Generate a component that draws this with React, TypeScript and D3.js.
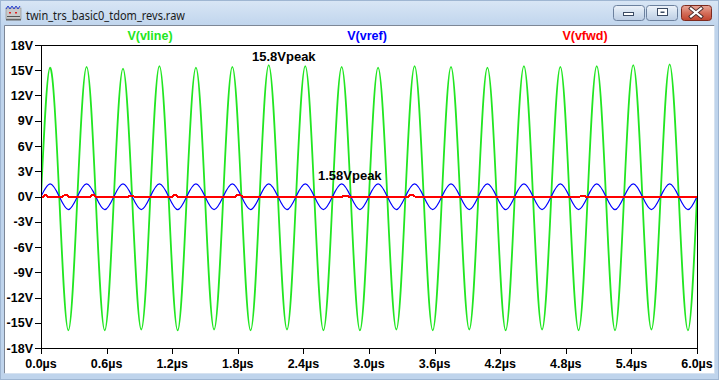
import React from 'react';
import * as d3 from 'd3';

// time samples (µs) at quarter periods of the 3 MHz waveform
const timeUs = [
  0, 0.083, 0.167, 0.25, 0.333, 0.417, 0.5, 0.583, 0.667, 0.75, 0.833, 0.917,
  1.0, 1.083, 1.167, 1.25, 1.333, 1.417, 1.5, 1.583, 1.667, 1.75, 1.833, 1.917,
  2.0, 2.083, 2.167, 2.25, 2.333, 2.417, 2.5, 2.583, 2.667, 2.75, 2.833, 2.917,
  3.0, 3.083, 3.167, 3.25, 3.333, 3.417, 3.5, 3.583, 3.667, 3.75, 3.833, 3.917,
  4.0, 4.083, 4.167, 4.25, 4.333, 4.417, 4.5, 4.583, 4.667, 4.75, 4.833, 4.917,
  5.0, 5.083, 5.167, 5.25, 5.333, 5.417, 5.5, 5.583, 5.667, 5.75, 5.833, 5.917,
  6.0,
];

// V(vline) in volts
const vline = [
  0, 15.3, 0, -15.9,
  0, 15.4, 0, -15.9,
  0, 15.2, 0, -15.8,
  0, 15.5, 0, -15.9,
  0, 15.3, 0, -15.8,
  0, 15.4, 0, -15.9,
  0, 15.6, 0, -15.8,
  0, 15.5, 0, -15.9,
  0, 15.4, 0, -15.9,
  0, 15.3, 0, -15.8,
  0, 15.5, 0, -15.9,
  0, 15.4, 0, -15.8,
  0, 15.3, 0, -15.9,
  0, 15.5, 0, -15.8,
  0, 15.4, 0, -15.9,
  0, 15.5, 0, -15.9,
  0, 15.6, 0, -15.8,
  0, 15.7, 0, -15.9,
  0,
];

// V(vref) in volts
const vref = [
  0, 1.5, 0, -1.56,
  0, 1.5, 0, -1.57,
  0, 1.49, 0, -1.56,
  0, 1.5, 0, -1.57,
  0, 1.5, 0, -1.56,
  0, 1.5, 0, -1.57,
  0, 1.51, 0, -1.56,
  0, 1.5, 0, -1.57,
  0, 1.5, 0, -1.56,
  0, 1.49, 0, -1.57,
  0, 1.5, 0, -1.56,
  0, 1.5, 0, -1.57,
  0, 1.5, 0, -1.56,
  0, 1.5, 0, -1.57,
  0, 1.5, 0, -1.56,
  0, 1.5, 0, -1.57,
  0, 1.51, 0, -1.56,
  0, 1.5, 0, -1.57,
  0,
];

// V(vfwd): flat near 0 V with small glitches
const vfwdTime = [
  0, 0.02, 0.03, 0.05, 0.06,
  0.2, 0.21, 0.24, 0.25,
  0.45, 0.46, 0.49, 0.5,
  0.8, 0.81, 0.84, 0.85,
  1.2, 1.21, 1.24, 1.25,
  1.78, 1.79, 1.83, 1.84,
  2.76, 2.77, 2.8, 2.81,
  3.36, 3.37, 3.41, 3.42,
  4.93, 4.94, 4.97, 4.98,
  6.0,
];
const vfwd = [
  0, 0, 0.12, 0.12, 0,
  0, 0.12, 0.12, 0,
  0, 0.12, 0.12, 0,
  0, 0.1, 0.1, 0,
  0, 0.12, 0.12, 0,
  0, 0.12, 0.12, 0,
  0, 0.1, 0.1, 0,
  0, 0.12, 0.12, 0,
  0, 0.1, 0.1, 0,
  0,
];

const yTicks = [18, 15, 12, 9, 6, 3, 0, -3, -6, -9, -12, -15, -18];
const xTicks = [0, 0.6, 1.2, 1.8, 2.4, 3.0, 3.6, 4.2, 4.8, 5.4, 6.0];
const traceNames = ['V(vline)', 'V(vref)', 'V(vfwd)'];
const traceColors = ['#22e622', '#0000ff', '#ff0000'];
const annotations = ['15.8Vpeak', '1.58Vpeak'];
const windowTitle = 'twin_trs_basic0_tdom_revs.raw';

const W = 719;
const H = 380;
const PL = 41, PR = 697, PT = 45, PB = 348;
const FONT = '"Liberation Sans", Arial, sans-serif';

export default function App() {
  const x = d3.scaleLinear().domain([0, 6]).range([PL, PR]);
  const y = d3.scaleLinear().domain([-18, 18]).range([PB, PT]);

  const greenPath = d3
    .line<number>()
    .x((_, i) => x(timeUs[i]))
    .y((v) => y(v))
    .curve(d3.curveNatural)(vline) || '';
  const bluePath = d3
    .line<number>()
    .x((_, i) => x(timeUs[i]))
    .y((v) => y(v))
    .curve(d3.curveNatural)(vref) || '';
  const redPath = d3
    .line<number>()
    .x((_, i) => x(vfwdTime[i]))
    .y((v) => y(v))(vfwd) || '';

  const fmtY = (v: number) => `${v}V`;
  const fmtX = (v: number) => `${v.toFixed(1)}µs`;

  return (
    <div style={{ position: 'absolute', left: 0, top: 0 }}>
      <svg width={W} height={H} style={{ display: 'block' }}>
        <defs>
          <linearGradient id="title" x1="0" y1="0" x2="0" y2="1">
            <stop offset="0" stopColor="#d9e6f5" />
            <stop offset="1" stopColor="#c0d5ed" />
          </linearGradient>
          <linearGradient id="btn" x1="0" y1="0" x2="0" y2="1">
            <stop offset="0" stopColor="#eef3fa" />
            <stop offset="0.5" stopColor="#d3e0ef" />
            <stop offset="1" stopColor="#bccde3" />
          </linearGradient>
          <linearGradient id="close" x1="0" y1="0" x2="0" y2="1">
            <stop offset="0" stopColor="#e9a99b" />
            <stop offset="0.5" stopColor="#d46e5a" />
            <stop offset="1" stopColor="#c2432d" />
          </linearGradient>
          <clipPath id="plotclip">
            <rect x={PL + 1} y={PT + 1} width={PR - PL - 1} height={PB - PT - 1} />
          </clipPath>
        </defs>

        {/* window frame */}
        <rect x={0} y={0} width={W} height={H} fill="#bfd4ec" />
        <rect x={0} y={0} width={W} height={26} fill="url(#title)" />
        <rect x={0.5} y={0.5} width={W - 1} height={H - 1} fill="none" stroke="#9fb6d2" />

        {/* icon */}
        <g>
          <rect x={6} y={8} width={15} height={11} fill="#c9c9c9" stroke="#8a8a8a" strokeWidth={0.6} />
          <path d="M6,9 l2,-3 l2,3 l2,-3 l2,3 l2,-3 l2,3 l2,-3" fill="none" stroke="#2a3fd0" strokeWidth={1} />
          <rect x={9} y={12} width={2} height={1.5} fill="#e02020" />
          <rect x={15} y={12} width={2} height={1.5} fill="#e02020" />
          <rect x={7} y={16} width={13} height={1} fill="#555" />
          <rect x={6} y={19} width={15} height={1.5} fill="#666" />
        </g>
        <text x={26} y={19.5} fontFamily='"Noto Sans", "DejaVu Sans", sans-serif' fontSize={12}
          fill="#1a1a1a" textLength={159} lengthAdjust="spacingAndGlyphs">
          {windowTitle}
        </text>

        {/* window buttons */}
        <rect x={613.5} y={5.5} width={31} height={15} rx={3} fill="url(#btn)" stroke="#6c819e" />
        <rect x={623.5} y={12.5} width={10} height={3} fill="#fff" stroke="#3b4b63" />
        <rect x={646.5} y={5.5} width={31} height={15} rx={3} fill="url(#btn)" stroke="#6c819e" />
        <rect x={657.5} y={8.5} width={10} height={7} fill="#fff" stroke="#3b4b63" />
        <rect x={660.5} y={11.5} width={4} height={1.5} fill="#3b4b63" />
        <rect x={681.5} y={5.5} width={30} height={15} rx={3} fill="url(#close)" stroke="#7d2a1f" />
        <path d="M691,8.5 L701,16.5 M701,8.5 L691,16.5" stroke="#4a2a2a" strokeWidth={4} strokeLinecap="square" />
        <path d="M691,8.5 L701,16.5 M701,8.5 L691,16.5" stroke="#ffffff" strokeWidth={2.2} strokeLinecap="square" />

        {/* content area */}
        <rect x={5} y={26} width={709} height={347} fill="#ffffff" />
        <path d={`M4.5,373.5 V25.5 H714.5`} fill="none" stroke="#7d8796" />
        <path d={`M4.5,373.5 H714.5 V25.5`} fill="none" stroke="#d6e2f0" />

        {/* traces */}
        <g clipPath="url(#plotclip)">
          <path d={greenPath} fill="none" stroke={traceColors[0]} strokeWidth={1.8} />
          <path d={bluePath} fill="none" stroke={traceColors[1]} strokeWidth={1.2} />
          <path d={redPath} fill="none" stroke={traceColors[2]} strokeWidth={2} shapeRendering="crispEdges" />
        </g>

        {/* plot frame */}
        <rect x={PL + 0.5} y={PT + 0.5} width={PR - PL} height={PB - PT} fill="none" stroke="#000" strokeWidth={1} />

        {/* y axis */}
        {yTicks.map((t) => (
          <g key={`y${t}`}>
            <line x1={35} x2={PL} y1={Math.round(y(t)) + 0.5} y2={Math.round(y(t)) + 0.5} stroke="#000" />
            <text x={33} y={y(t) + 4.5} textAnchor="end" fontFamily={FONT} fontWeight="bold" fontSize={12.5} fill="#000">
              {fmtY(t)}
            </text>
          </g>
        ))}

        {/* x axis */}
        {xTicks.map((t) => (
          <g key={`x${t}`}>
            <line x1={Math.round(x(t)) + 0.5} x2={Math.round(x(t)) + 0.5} y1={PB} y2={PB + 6} stroke="#000" />
            <text x={x(t)} y={368} textAnchor="middle" fontFamily={FONT} fontWeight="bold" fontSize={12.5} fill="#000">
              {fmtX(t)}
            </text>
          </g>
        ))}

        {/* trace names */}
        <text x={150} y={40} textAnchor="middle" fontFamily={FONT} fontWeight="bold" fontSize={12.5} fill={traceColors[0]}>{traceNames[0]}</text>
        <text x={367} y={40} textAnchor="middle" fontFamily={FONT} fontWeight="bold" fontSize={12.5} fill={traceColors[1]}>{traceNames[1]}</text>
        <text x={585} y={40} textAnchor="middle" fontFamily={FONT} fontWeight="bold" fontSize={12.5} fill={traceColors[2]}>{traceNames[2]}</text>

        {/* annotations */}
        <text x={252} y={61} fontFamily={FONT} fontWeight="bold" fontSize={13} fill="#000">{annotations[0]}</text>
        <text x={318} y={179.5} fontFamily={FONT} fontWeight="bold" fontSize={13} fill="#000">{annotations[1]}</text>
      </svg>
    </div>
  );
}
